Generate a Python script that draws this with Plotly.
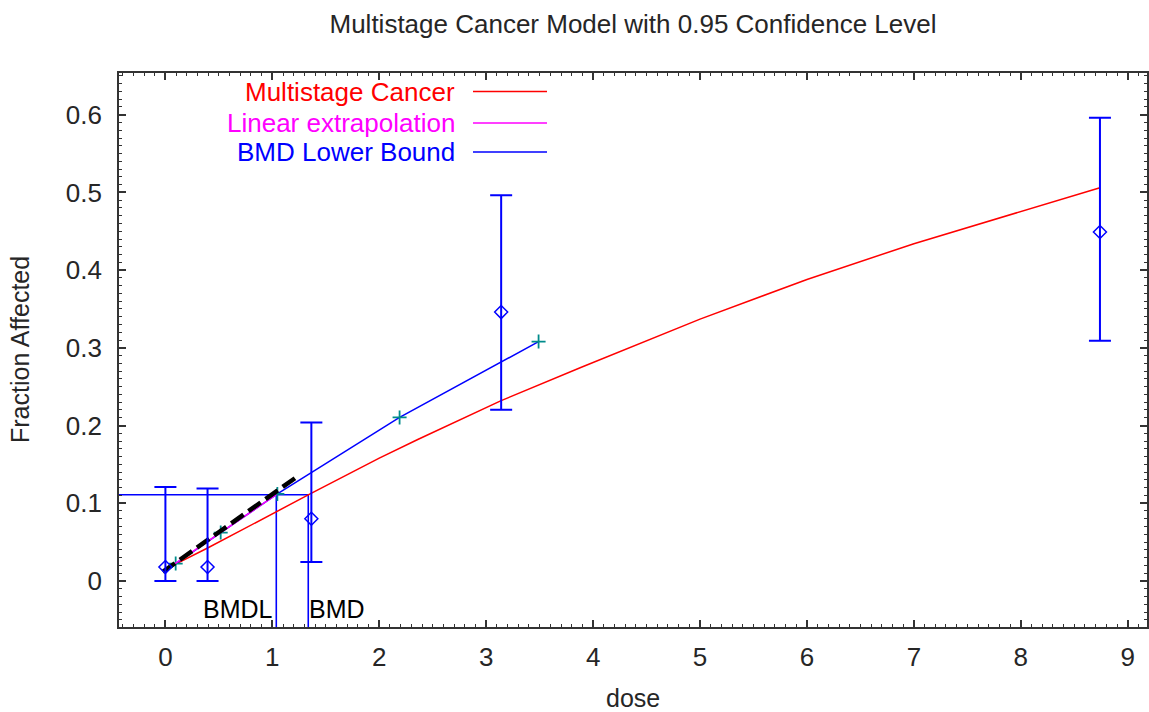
import plotly.graph_objects as go

# ---- data ----
obs_dose = [0.0, 0.394, 1.365, 3.14, 8.74]
obs_frac = [0.018, 0.018, 0.080, 0.346, 0.449]
obs_hi = [0.121, 0.119, 0.204, 0.4965, 0.596]
obs_lo = [0.0, 0.0, 0.0245, 0.2204, 0.309]

model_dose = [0.0, 0.1, 0.39, 1.04, 1.34, 2.0, 2.36, 3.14, 3.89, 5.0, 6.0, 7.0, 8.0, 8.74]
model_frac = [0.014, 0.022, 0.042, 0.0895, 0.111, 0.158, 0.182, 0.232, 0.275, 0.337, 0.388, 0.434, 0.475, 0.506]

bmdl_dose = [0.0, 0.096, 0.517, 1.047, 2.19, 3.49]
bmdl_frac = [0.0142, 0.0223, 0.0622, 0.112, 0.2104, 0.308]

linext_dose = [0.0, 1.037]
linext_frac = [0.014, 0.111]

dash_dose = [-0.025, 1.23]
dash_frac = [0.0116, 0.134]

BMR = 0.111
BMDL = 1.037
BMD = 1.336

x_range = [-0.434, 9.18]
y_range = [-0.0593, 0.6537]
x_ticks = [0, 1, 2, 3, 4, 5, 6, 7, 8, 9]
y_ticks = [0, 0.1, 0.2, 0.3, 0.4, 0.5, 0.6]
y_ticklabels = ["0", "0.1", "0.2", "0.3", "0.4", "0.5", "0.6"]

legend_names = ["Multistage Cancer", "Linear extrapolation", "BMD Lower Bound"]
legend_colors = ["#ff0000", "#ff00ff", "#0000ff"]

FONT = "Liberation Sans, Arial, sans-serif"
TXT = "#262626"
BLUE = "#0000ff"

# plot-area geometry (px)
L, R, T, B = 119, 1147, 73, 627
PW, PH = R - L, B - T

fig = go.Figure()

# BMR / BMD / BMDL guide lines
fig.add_trace(go.Scatter(x=[x_range[0], BMD], y=[BMR, BMR], mode="lines",
                         line=dict(color=BLUE, width=1.6), showlegend=False, hoverinfo="skip"))
fig.add_trace(go.Scatter(x=[BMDL, BMDL], y=[y_range[0], BMR], mode="lines",
                         line=dict(color=BLUE, width=1.6), showlegend=False, hoverinfo="skip"))
fig.add_trace(go.Scatter(x=[BMD, BMD], y=[y_range[0], BMR], mode="lines",
                         line=dict(color=BLUE, width=1.6), showlegend=False, hoverinfo="skip"))

# multistage model
fig.add_trace(go.Scatter(x=model_dose, y=model_frac, mode="lines",
                         line=dict(color="#ff0000", width=1.5), name=legend_names[0], showlegend=False))

# BMD lower bound line with + markers
fig.add_trace(go.Scatter(x=bmdl_dose, y=bmdl_frac, mode="lines",
                         line=dict(color=BLUE, width=1.5), name=legend_names[2], showlegend=False))
fig.add_trace(go.Scatter(x=bmdl_dose[1:], y=bmdl_frac[1:], mode="markers",
                         marker=dict(symbol="cross-thin-open", size=10, color="#008b8b",
                                     line=dict(color="#008b8b", width=1.8)),
                         showlegend=False))

# linear extrapolation
fig.add_trace(go.Scatter(x=linext_dose, y=linext_frac, mode="lines",
                         line=dict(color="#ff00ff", width=1.5), name=legend_names[1], showlegend=False))

# black dashed line
fig.add_trace(go.Scatter(x=dash_dose, y=dash_frac, mode="lines",
                         line=dict(color="black", width=4.5, dash="15px,6px"), showlegend=False))

# observed data with error bars
fig.add_trace(go.Scatter(
    x=obs_dose, y=obs_frac, mode="markers",
    marker=dict(symbol="diamond-open", size=10, color=BLUE, line=dict(color=BLUE, width=1.5)),
    error_y=dict(type="data", symmetric=False,
                 array=[h - f for h, f in zip(obs_hi, obs_frac)],
                 arrayminus=[f - l for f, l in zip(obs_frac, obs_lo)],
                 color=BLUE, thickness=2, width=11),
    showlegend=False))

# legend drawn as coloured text + line samples
legend_y = [91.5, 123, 152]
for name, col, yy in zip(legend_names, legend_colors, legend_y):
    yp = 1 - (yy - T) / PH
    fig.add_annotation(xref="paper", yref="paper", x=(457 - L) / PW, y=yp,
                       text=name, showarrow=False, xanchor="right", yanchor="middle",
                       font=dict(family=FONT, size=26, color=col))
    fig.add_shape(type="line", xref="paper", yref="paper",
                  x0=(473 - L) / PW, x1=(547 - L) / PW, y0=yp, y1=yp,
                  line=dict(color=col, width=1.5))

# BMDL / BMD labels
fig.add_annotation(x=BMDL, y=-0.036, text="BMDL", showarrow=False, xanchor="right",
                   yanchor="middle", xshift=-1, font=dict(family=FONT, size=25, color="black"))
fig.add_annotation(x=BMD, y=-0.036, text="BMD", showarrow=False, xanchor="left",
                   yanchor="middle", xshift=-1, font=dict(family=FONT, size=25, color="black"))

# axis titles
fig.add_annotation(xref="paper", yref="paper", x=0.5, y=(B - 698) / PH, text="dose",
                   showarrow=False, xanchor="center", yanchor="middle",
                   font=dict(family=FONT, size=25, color=TXT))
fig.add_annotation(xref="paper", yref="paper", x=(20 - L) / PW, y=0.5, text="Fraction Affected",
                   textangle=-90, showarrow=False, xanchor="center", yanchor="middle",
                   font=dict(family=FONT, size=25, color=TXT))

axis_common = dict(showline=True, linecolor="#333333", linewidth=1.6, mirror="allticks",
                   ticks="inside", ticklen=7, tickwidth=1.5, tickcolor="#333333",
                   showgrid=False, zeroline=False, automargin=False,
                   tickfont=dict(family=FONT, size=26, color=TXT),
                   minor=dict(ticks="inside", ticklen=3, tickwidth=1.2, tickcolor="#333333",
                              showgrid=False))

fig.update_xaxes(range=x_range, tickmode="array", tickvals=x_ticks,
                 minor_dtick=0.1, ticklabelstandoff=6, **axis_common)
fig.update_yaxes(range=y_range, tickmode="array", tickvals=y_ticks, ticktext=y_ticklabels,
                 minor_dtick=0.01, ticklabelstandoff=10, **axis_common)

fig.update_layout(
    width=1149, height=712,
    margin=dict(l=L, r=1149 - R, t=T, b=712 - B),
    paper_bgcolor="white", plot_bgcolor="white",
    title=dict(text="Multistage Cancer Model with 0.95 Confidence Level",
               x=(L + R) / 2 / 1149, xanchor="center", y=1 - 24 / 712, yanchor="middle",
               yref="container", font=dict(family=FONT, size=26, color=TXT)),
    showlegend=False,
)

fig.write_html(
    "out.html",
    config={"displayModeBar": False},
    post_script="document.body.style.margin='0';document.body.style.overflow='hidden';",
)
